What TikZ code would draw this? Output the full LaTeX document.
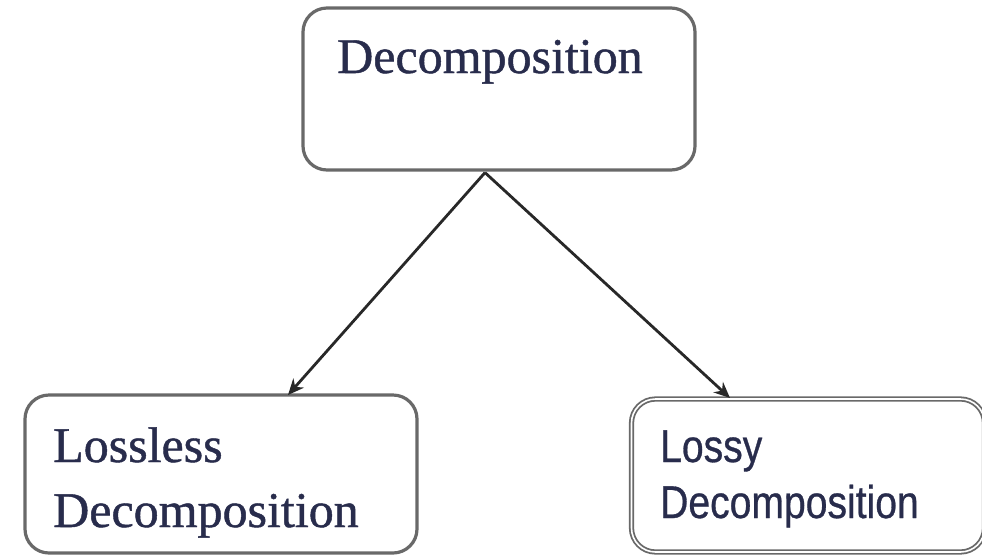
\documentclass[tikz,border=0pt]{standalone}
\usepackage{fontspec}
\setmainfont[FakeBold=0.9]{Liberation Serif}
\newfontfamily\labelsans[FakeBold=0.7]{Liberation Sans}
\usetikzlibrary{arrows.meta,calc}
\definecolor{inkblue}{RGB}{40,44,76}
\definecolor{framegray}{RGB}{105,105,105}
\definecolor{arrowgray}{RGB}{40,40,40}
\begin{document}
\begin{tikzpicture}[x=1pt,y=-1pt,
  box/.style={draw=framegray,line width=3.2pt,rounded corners=24pt,
    fill=white,inner sep=0pt},
  dbox/.style={box,draw=framegray,line width=1.8pt,double=white,
    double distance=1.6pt},
  serifword/.style={anchor=base west,inner sep=0pt,text=inkblue,
    font=\fontsize{50}{50}\selectfont},
  sansword/.style={anchor=base west,inner sep=0pt,text=inkblue,
    font=\labelsans\fontsize{46}{46}\selectfont,xscale=0.85},
  link/.style={draw=arrowgray,line width=2.8pt,
    -{Stealth[length=16pt,width=14pt]}}]
\useasboundingbox (0,0) rectangle (982,558);
\fill[white] (0,0) rectangle (982,558);

% boxes
\node[box,minimum width=392pt,minimum height=162pt] (top) at (499,89) {};
\node[box,minimum width=392pt,minimum height=158pt] (left) at (221,474) {};
\node[dbox,minimum width=353pt,minimum height=153pt] (right) at (808,475.5) {};

% labels
\node[serifword] (ttop) at (337,73) {Decomposition};
\node[serifword] (tl1) at (53,462) {Lossless};
\node[serifword] (tl2) at (53,527) {Decomposition};
\node[sansword] (tr1) at (660,462) {Lossy};
\node[sansword] (tr2) at (660,518) {Decomposition};

% connectors
\coordinate (apex) at ($(top.south)+(-14,1)$);
\coordinate (ltip) at (288,395);
\coordinate (rtip) at (730,398);
\draw[link] (apex) -- (ltip);
\draw[link] (apex) -- (rtip);
\end{tikzpicture}
\end{document}
